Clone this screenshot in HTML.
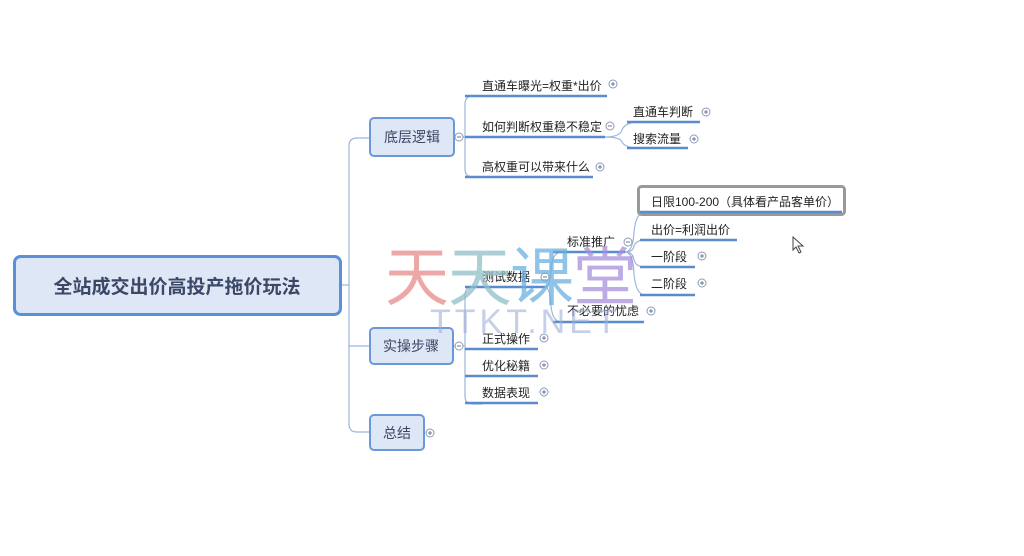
<!DOCTYPE html>
<html><head><meta charset="utf-8">
<style>
html,body{margin:0;padding:0;background:#fff;}
svg{display:block;}
text{font-family:"Liberation Sans","Noto Sans CJK SC",sans-serif;}
</style></head>
<body>
<svg width="1024" height="556" viewBox="0 0 1024 556" xmlns="http://www.w3.org/2000/svg">
<rect width="1024" height="556" fill="#fff"/>
<g fill="none" stroke="#9bb7dc" stroke-width="1.2">
  <!-- root to main branches -->
  <path d="M341 285 H349"/>
  <path d="M370 138 H357 Q349 138 349 146 V424 Q349 432 357 432 H370"/>
  <path d="M349 346 H370"/>
  <!-- 底层逻辑 children -->
  <path d="M454 137 H465"/>
  <path d="M482 96 H473 Q465 96 465 104 V169 Q465 177 473 177 H482"/>
  <!-- grandchildren -->
  <path d="M605 137 Q620 137 622 130 Q625 122 640 122"/>
  <path d="M605 137 Q620 137 622 142 Q625 148 640 148"/>
  <!-- 实操步骤 children -->
  <path d="M453 346 H465"/>
  <path d="M482 287 H473 Q465 287 465 295 V396 Q465 404 473 404 H482"/>
  <!-- 测试数据 children -->
  <path d="M545 287 Q550 287 551 270 Q552 252 562 252"/>
  <path d="M545 287 Q550 287 551 305 Q552 322 562 322"/>
  <!-- 标准推广 children -->
  <path d="M625 252 Q633 252 634 232 Q636 212 645 212"/>
  <path d="M625 252 Q633 252 634 246 Q636 240 645 240"/>
  <path d="M625 252 Q633 252 634 260 Q636 267 645 267"/>
  <path d="M625 252 Q633 252 634 274 Q636 295 645 295"/>
</g>
<!-- root -->
<rect x="14.5" y="256.5" width="326" height="58" rx="6" fill="#dde7f5" stroke="#5b8fd6" stroke-width="3"/>
<text x="177" y="293" font-size="19" font-weight="bold" fill="#3b4766" text-anchor="middle">全站成交出价高投产拖价玩法</text>
<!-- main boxes -->
<g fill="#dde7f5" stroke="#6a98d8" stroke-width="2">
  <rect x="370" y="118" width="84" height="38" rx="4"/>
  <rect x="370" y="328" width="83" height="36" rx="4"/>
  <rect x="370" y="415" width="54" height="35" rx="4"/>
</g>
<g font-size="14" fill="#3b4766" text-anchor="middle">
  <text x="412" y="142">底层逻辑</text>
  <text x="411" y="351">实操步骤</text>
  <text x="397" y="438">总结</text>
</g>
<!-- 日限 box -->
<rect x="638.5" y="186.5" width="206" height="28" rx="3" fill="#fff" stroke="#999" stroke-width="3"/>
<!-- underlines -->
<g stroke="#5a8bcd" stroke-width="2.4">
  <line x1="465" y1="96" x2="607" y2="96"/>
  <line x1="465" y1="137" x2="605" y2="137"/>
  <line x1="465" y1="177" x2="593" y2="177"/>
  <line x1="627" y1="122" x2="700" y2="122"/>
  <line x1="627" y1="148" x2="688" y2="148"/>
  <line x1="465" y1="287" x2="545" y2="287"/>
  <line x1="465" y1="349" x2="538" y2="349"/>
  <line x1="465" y1="376" x2="538" y2="376"/>
  <line x1="465" y1="403" x2="538" y2="403"/>
  <line x1="553" y1="252" x2="625" y2="252"/>
  <line x1="553" y1="322" x2="644" y2="322"/>
  <line x1="640" y1="212" x2="842" y2="212"/>
  <line x1="640" y1="240" x2="737" y2="240"/>
  <line x1="640" y1="267" x2="695" y2="267"/>
  <line x1="640" y1="295" x2="695" y2="295"/>
</g>
<!-- labels -->
<g font-size="12" fill="#222">
  <text x="482" y="90">直通车曝光=权重*出价</text>
  <text x="482" y="131">如何判断权重稳不稳定</text>
  <text x="482" y="171">高权重可以带来什么</text>
  <text x="633" y="116">直通车判断</text>
  <text x="633" y="143">搜索流量</text>
  <text x="482" y="281">测试数据</text>
  <text x="482" y="343">正式操作</text>
  <text x="482" y="370">优化秘籍</text>
  <text x="482" y="397">数据表现</text>
  <text x="567" y="246">标准推广</text>
  <text x="567" y="315">不必要的忧虑</text>
  <text x="651" y="206">日限100-200（具体看产品客单价）</text>
  <text x="651" y="234">出价=利润出价</text>
  <text x="651" y="261">一阶段</text>
  <text x="651" y="288">二阶段</text>
</g>
<!-- expand/collapse markers -->
<g fill="#fff" stroke="#8a9bb5" stroke-width="1">
  <circle cx="459" cy="137" r="4"/><circle cx="459" cy="346" r="4"/><circle cx="430" cy="433" r="4"/>
  <circle cx="613" cy="84" r="4"/><circle cx="610" cy="126" r="4"/><circle cx="600" cy="167" r="4"/>
  <circle cx="706" cy="112" r="4"/><circle cx="694" cy="139" r="4"/>
  <circle cx="545" cy="277" r="4"/><circle cx="544" cy="338" r="4"/><circle cx="544" cy="365" r="4"/><circle cx="544" cy="392" r="4"/>
  <circle cx="628" cy="242" r="4"/><circle cx="651" cy="311" r="4"/>
  <circle cx="702" cy="256" r="4"/><circle cx="702" cy="283" r="4"/>
</g>
<g stroke="#6a7a95" stroke-width="1">
  <path d="M457 137h4M457 346h4M428 433h4M611 84h4M611 84M613 82v4M608 126h4M598 167h4M600 165v4M704 112h4M706 110v4M692 139h4M694 137v4M543 277h4M542 338h4M544 336v4M542 365h4M544 363v4M542 392h4M544 390v4M626 242h4M649 311h4M651 309v4M700 256h4M702 254v4M700 283h4M702 281v4M430 431v4"/>
</g>
<!-- watermark -->
<g font-size="64" font-family="'Noto Sans CJK SC',sans-serif" opacity="0.75">
  <text x="385" y="300" fill="#e88a8a">天</text>
  <text x="448" y="300" fill="#8fc0c8">天</text>
  <text x="510" y="300" fill="#6ab0e0">课</text>
  <text x="573" y="300" fill="#a890dc">堂</text>
</g>
<text x="430" y="333" font-size="34" fill="#a0b0d8" opacity="0.6" font-family="'Liberation Sans',sans-serif" letter-spacing="4">TTKT.NET</text>
<!-- cursor -->
<path d="M793 237 L793 250 L796 247 L799 253 L801 252 L798 246 L803 246 Z" fill="#fff" stroke="#444" stroke-width="1"/>
</svg>
</body></html>
